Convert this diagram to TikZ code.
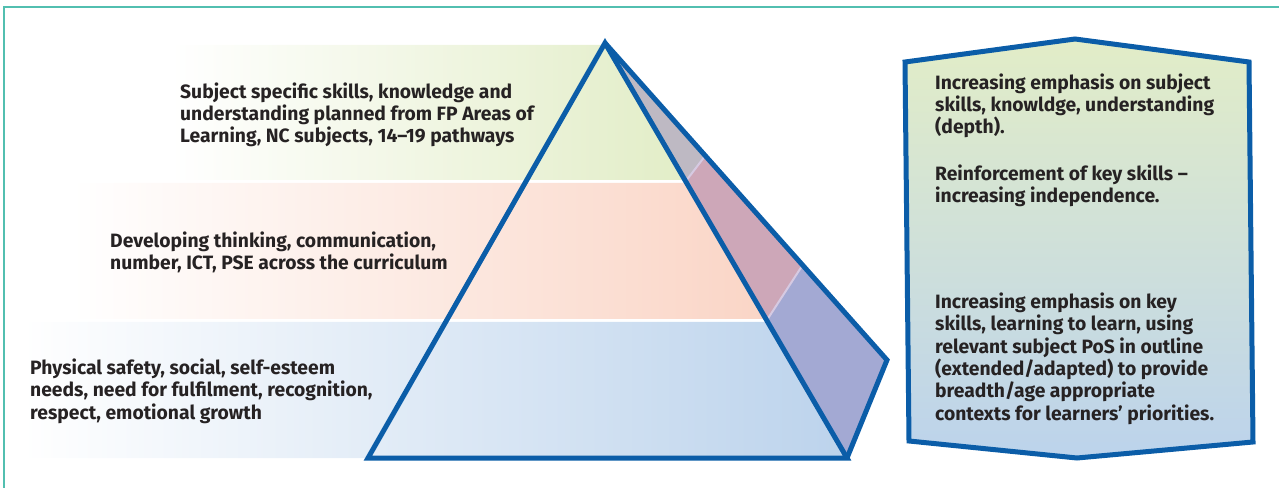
\documentclass[tikz,border=0pt]{standalone}
\usepackage{fontspec}
\setmainfont{Fira Sans}
\definecolor{pyrblue}{HTML}{0B5DA8}
\definecolor{teal}{HTML}{52BFB0}
\definecolor{bgreen}{HTML}{E2EDC7}
\definecolor{bpink}{HTML}{FAD5C6}
\definecolor{bblue}{HTML}{BCD3EC}
\definecolor{sgrey}{HTML}{BEB9C3}
\definecolor{smauve}{HTML}{CDA7B8}
\definecolor{sviolet}{HTML}{A3A9D3}
\definecolor{sline}{HTML}{D6CAE2}
\definecolor{txt}{HTML}{262223}
\tikzset{
  outline/.style={draw=pyrblue, line width=5bp, line join=miter},
  label/.style={inner sep=0pt, anchor=base west, align=left, text=txt,
    font=\fontsize{19.3bp}{22.3bp}\selectfont\bfseries},
}
\begin{document}
\begin{tikzpicture}[x=1bp,y=-1bp]
\useasboundingbox (0,0) rectangle (1279,488);
% frame
\draw[teal, line width=1.8bp] (4,488) -- (4,7) -- (1279,7);
% bands
\shade[left color=white, right color=bgreen] (171,45) -- (606,45) -- (686,180) -- (171,180) -- cycle;
\shade[left color=white, right color=bpink] (71,183) -- (688,183) -- (766,319) -- (71,319) -- cycle;
\shade[left color=white, right color=bblue] (22,322) -- (768,322) -- (847,458) -- (22,458) -- cycle;
% side face
\coordinate (apex) at (605,43);
\coordinate (bl) at (368,458);
\coordinate (br) at (847,458);
\coordinate (back) at (887,360);
\coordinate (f1) at (686,181);
\coordinate (f2) at (767,320);
\coordinate (b1) at (705,156);
\coordinate (b2) at (802,266);
\fill[sgrey] (apex) -- (b1) -- (f1) -- cycle;
\fill[smauve] (f1) -- (b1) -- (b2) -- (f2) -- cycle;
\fill[sviolet] (f2) -- (b2) -- (back) -- (br) -- cycle;
\draw[sline, line width=2bp] (f1) -- (b1);
\draw[sline, line width=2bp] (f2) -- (b2);
% pyramid outline
\draw[outline] (apex) -- (bl) -- (br) -- cycle;
\draw[outline] (apex) -- (back) -- (br);
% right box
\shade[top color=bgreen, bottom color=bblue] (905,62) -- (1075,39) -- (1249,62) -- (1253,442) -- (1077,458) -- (909,441) -- cycle;
\draw[outline] (905,62) -- (1075,39) -- (1249,62) -- (1253,442) -- (1077,458) -- (909,441) -- cycle;
% texts (anchor = baseline of last line)
\node[label] (t1) at (180,143) {Subject specific skills, knowledge and\\understanding planned from FP Areas of\\Learning, NC subjects, 14–19 pathways};
\node[label] (t2) at (110,270) {Developing thinking, communication,\\number, ICT, PSE across the curriculum};
\node[label] (t3) at (30,419) {Physical safety, social, self-esteem\\needs, need for fulfilment, recognition,\\respect, emotional growth};
\node[label] (r1) at (935,134) {Increasing emphasis on subject\\skills, knowldge, understanding\\(depth).};
\node[label] (r2) at (935,203) {Reinforcement of key skills –\\increasing independence.};
\node[label] (r3) at (935,420) {Increasing emphasis on key\\skills, learning to learn, using\\relevant subject PoS in outline\\(extended/adapted) to provide\\breadth/age appropriate\\contexts for learners’ priorities.};
\end{tikzpicture}
\end{document}
